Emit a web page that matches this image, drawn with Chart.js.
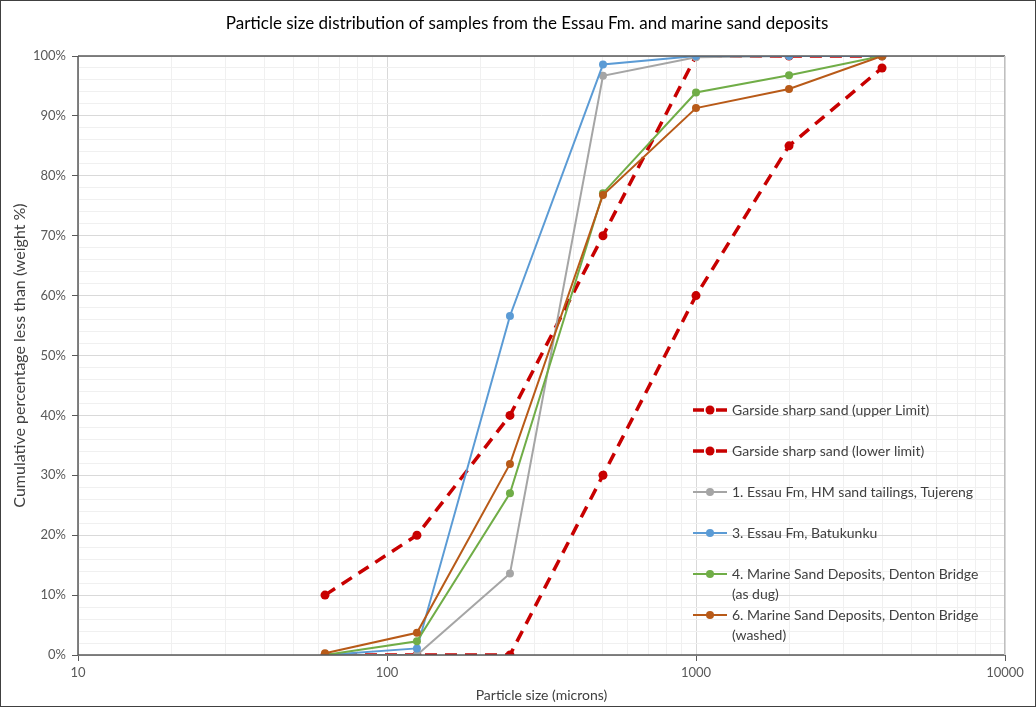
<!DOCTYPE html>
<html>
<head>
<meta charset="utf-8">
<script src="https://cdn.jsdelivr.net/npm/chart.js@4.4.0/dist/chart.umd.min.js"></script>
<style>
  html, body { margin: 0; padding: 0; background: #fff; }
  #wrap { width: 1036px; height: 707px; }
</style>
</head>
<body>
<div id="wrap"><canvas id="psdChart" width="1036" height="707"></canvas></div>
<script>
// sieve sizes (microns)
const sizes = [63, 125, 250, 500, 1000, 2000, 4000];

// cumulative % passing
const upperLimit = [10, 20, 40, 70, 100, 100, 100];
const lowerLimit = [0, 0, 0, 30, 60, 85, 98];
const tujereng   = [0, 0, 13.6, 96.7, 99.8, 100, 100];
const batukunku  = [0, 1.1, 56.6, 98.6, 100, 100, 100];
const dentonDug  = [0, 2.3, 27, 77.1, 93.9, 96.8, 100];
const dentonWash = [0.3, 3.7, 31.9, 76.8, 91.3, 94.5, 100];

// legend lines as they wrap in the original
const seriesNames = [
    ['Garside sharp sand (upper Limit)'],
    ['Garside sharp sand (lower limit)'],
    ['1. Essau Fm, HM sand tailings, Tujereng'],
    ['3. Essau Fm, Batukunku'],
    ['4. Marine Sand Deposits, Denton Bridge', '(as dug)'],
    ['6. Marine Sand Deposits, Denton Bridge', '(washed)']
];
const seriesValues = [upperLimit, lowerLimit, tujereng, batukunku, dentonDug, dentonWash];
const seriesColors = ['#c80000', '#c80000', '#a5a5a5', '#5b9bd5', '#70ad47', '#b85a18'];

const FONT = 'Lato, "Open Sans", sans-serif';

const datasets = seriesValues.map((vals, i) => {
    const dashed = i < 2;
    return {
        label: seriesNames[i].join(' '),
        legendLines: seriesNames[i],
        data: sizes.map((s, j) => ({ x: s, y: vals[j] })),
        borderColor: seriesColors[i],
        backgroundColor: seriesColors[i],
        borderWidth: dashed ? 3.5 : 2,
        borderDash: dashed ? [12, 8] : [],
        pointRadius: dashed ? 4.5 : 4,
        pointHoverRadius: 4,
        pointBorderWidth: 0,
        tension: 0,
        order: seriesValues.length - i
    };
});

// white background + outer frame + title
const frame = {
    id: 'frame',
    beforeDraw(chart) {
        const c = chart.ctx;
        c.save();
        c.fillStyle = '#fff';
        c.fillRect(0, 0, chart.width, chart.height);
        c.strokeStyle = '#404040';
        c.lineWidth = 1;
        c.strokeRect(0.5, 0.5, chart.width - 1, chart.height - 1);
        c.fillStyle = '#000';
        c.font = '17px ' + FONT;
        c.textAlign = 'center';
        c.textBaseline = 'middle';
        c.fillText('Particle size distribution of samples from the Essau Fm. and marine sand deposits', 527, 24);
        c.restore();
    },
    afterDatasetsDraw(chart) {
        // plot border on top of grid
        const a = chart.chartArea;
        const c = chart.ctx;
        c.save();
        c.strokeStyle = '#595959';
        c.lineWidth = 1.5;
        c.beginPath();
        c.moveTo(a.left, a.top); c.lineTo(a.right, a.top);
        c.moveTo(a.left, a.bottom); c.lineTo(a.right, a.bottom);
        c.moveTo(a.left, a.top); c.lineTo(a.left, a.bottom);
        c.stroke();
        c.strokeStyle = '#bfbfbf';
        c.lineWidth = 1;
        c.beginPath();
        c.moveTo(a.right - 0.5, a.top); c.lineTo(a.right - 0.5, a.bottom);
        c.stroke();
        c.restore();
    }
};

// legend drawn inside plot area
const innerLegend = {
    id: 'innerLegend',
    afterDraw(chart) {
        const a = chart.chartArea;
        const c = chart.ctx;
        const x0 = a.right - 312;
        let y = a.top + 354;
        c.save();
        c.font = '14px ' + FONT;
        c.textBaseline = 'middle';
        chart.data.datasets.forEach((ds, i) => {
            const dashed = i < 2;
            c.strokeStyle = ds.borderColor;
            c.fillStyle = ds.borderColor;
            c.lineWidth = dashed ? 3.5 : 2;
            c.beginPath();
            if (dashed) {
                c.moveTo(x0, y); c.lineTo(x0 + 11, y);
                c.moveTo(x0 + 23, y); c.lineTo(x0 + 34, y);
            } else {
                c.moveTo(x0, y); c.lineTo(x0 + 34, y);
            }
            c.stroke();
            c.beginPath();
            c.arc(x0 + 17, y, dashed ? 4.5 : 4, 0, Math.PI * 2);
            c.fill();
            c.fillStyle = '#404040';
            ds.legendLines.forEach((ln, k) => c.fillText(ln, x0 + 39, y + k * 20));
            y += 41;
        });
        c.restore();
    }
};

const isDecade = v => Math.abs(Math.log10(v) - Math.round(Math.log10(v))) < 1e-6;

new Chart(document.getElementById('psdChart').getContext('2d'), {
    type: 'line',
    data: { datasets: datasets },
    options: {
        responsive: false,
        animation: false,
        events: [],
        layout: { padding: { top: 56, right: 31, left: 0, bottom: 0 } },
        plugins: {
            legend: { display: false },
            title: { display: false },
            tooltip: { enabled: false }
        },
        scales: {
            x: {
                type: 'logarithmic',
                min: 10,
                max: 10000,
                afterFit: s => { s.height = 52; },
                afterBuildTicks: s => {
                    const t = [];
                    for (let d = 10; d < 10000; d *= 10) {
                        for (let m = 1; m < 10; m++) t.push({ value: d * m });
                    }
                    t.push({ value: 10000 });
                    s.ticks = t;
                },
                grid: {
                    color: ctx => isDecade(ctx.tick.value) ? '#d9d9d9' : '#f0f0f0',
                    lineWidth: 1,
                    tickLength: 6,
                    tickColor: ctx => isDecade(ctx.tick.value) ? '#595959' : 'rgba(0,0,0,0)'
                },
                border: { display: false },
                ticks: {
                    autoSkip: false,
                    maxRotation: 0,
                    padding: 4,
                    color: '#595959',
                    font: { family: FONT, size: 13 },
                    callback: v => isDecade(v) ? String(v) : ''
                },
                title: {
                    display: true,
                    text: 'Particle size (microns)',
                    color: '#404040',
                    font: { family: FONT, size: 14 },
                    padding: { top: 0, bottom: 3 }
                }
            },
            y: {
                min: 0,
                max: 100,
                afterFit: s => { s.width = 78; },
                ticks: {
                    stepSize: 2,
                    autoSkip: false,
                    padding: 6,
                    color: '#595959',
                    font: { family: FONT, size: 13 },
                    callback: v => v % 10 === 0 ? v + '%' : ''
                },
                grid: {
                    color: ctx => ctx.tick.value % 10 === 0 ? '#d9d9d9' : '#f0f0f0',
                    lineWidth: 1,
                    tickLength: 6,
                    tickColor: ctx => ctx.tick.value % 10 === 0 ? '#595959' : 'rgba(0,0,0,0)'
                },
                border: { display: false },
                title: {
                    display: true,
                    text: 'Cumulative percentage less than (weight %)',
                    color: '#404040',
                    font: { family: FONT, size: 16 },
                    padding: { top: 10, bottom: 0 }
                }
            }
        }
    },
    plugins: [frame, innerLegend]
});
</script>
</body>
</html>
